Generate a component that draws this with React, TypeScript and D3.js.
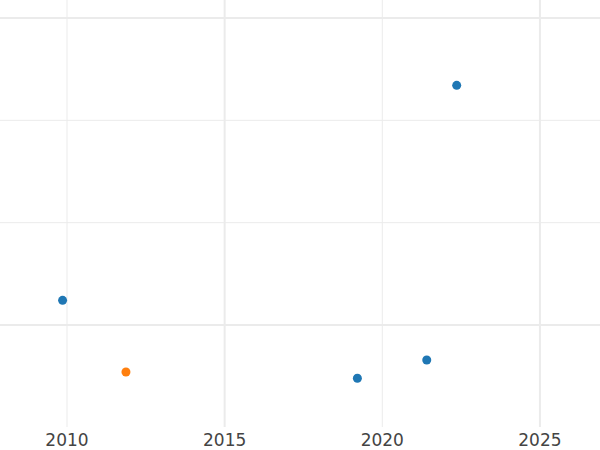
import React from "react";
import * as d3 from "d3";

const blueYears = [2009.86, 2019.21, 2021.41, 2022.36];
const blueValues = [2.41, -5.21, -3.42, 23.42];
const orangeYears = [2011.87];
const orangeValues = [-4.59];
const xTickValues = [2010, 2015, 2020, 2025];
const xMajorTicks = [2015, 2025];
const yMajorTicks = [0, 30];
const yMinorTicks = [10, 20];

const W = 600;
const H = 450;
const plotBottom = 427;

export default function App() {
  const x = d3.scaleLinear().domain([2007.875, 2026.905]).range([0, W]);
  const y = d3.scaleLinear().domain([-9.97, 31.76]).range([plotBottom, 0]);
  const grid = "#ebebeb";
  return (
    <svg
      width={W}
      height={H}
      style={{ position: "absolute", left: 0, top: 0, background: "#fff" }}
      fontFamily="DejaVu Sans, sans-serif"
    >
      <rect x={0} y={0} width={W} height={H} fill="#fff" />
      {yMinorTicks.map((t) => (
        <line key={"ym" + t} x1={0} x2={W} y1={y(t)} y2={y(t)} stroke={grid} strokeWidth={1} />
      ))}
      {xTickValues
        .filter((t) => !xMajorTicks.includes(t))
        .map((t) => (
          <line key={"xm" + t} x1={x(t)} x2={x(t)} y1={0} y2={plotBottom} stroke={grid} strokeWidth={1} />
        ))}
      {yMajorTicks.map((t) => (
        <line key={"yM" + t} x1={0} x2={W} y1={y(t)} y2={y(t)} stroke={grid} strokeWidth={2} />
      ))}
      {xMajorTicks.map((t) => (
        <line key={"xM" + t} x1={x(t)} x2={x(t)} y1={0} y2={plotBottom} stroke={grid} strokeWidth={2} />
      ))}
      {xTickValues.map((t) => (
        <text key={"xl" + t} x={x(t)} y={446} textAnchor="middle" fontSize={17} fill="#444">
          {t}
        </text>
      ))}
      {blueYears.map((yr, i) => (
        <circle key={"b" + i} cx={x(yr)} cy={y(blueValues[i])} r={4.5} fill="#1f77b4" />
      ))}
      {orangeYears.map((yr, i) => (
        <circle key={"o" + i} cx={x(yr)} cy={y(orangeValues[i])} r={4.5} fill="#ff7f0e" />
      ))}
    </svg>
  );
}
